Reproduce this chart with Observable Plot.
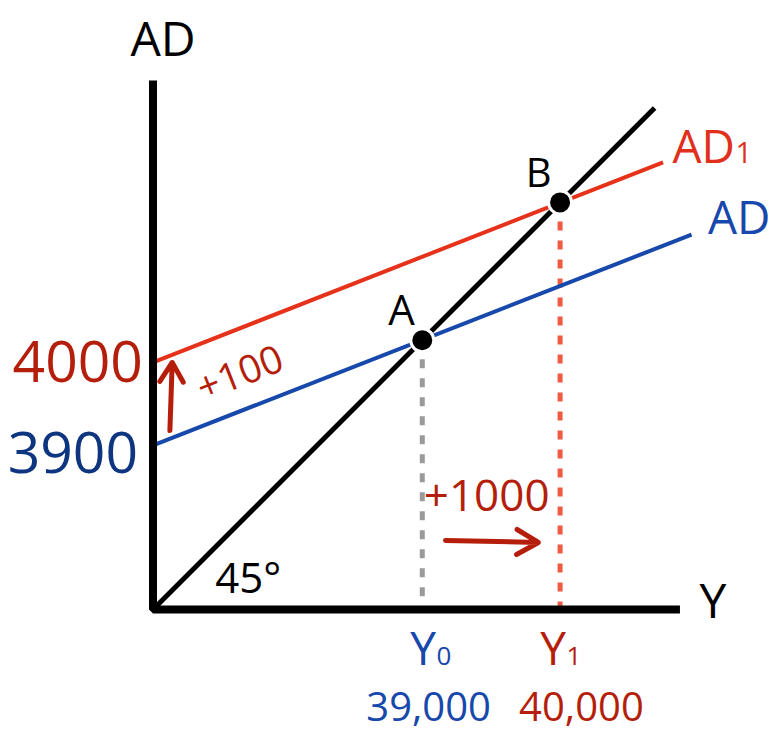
<!DOCTYPE html>
<html>
<head>
<meta charset="utf-8">
<script src="https://cdn.jsdelivr.net/npm/d3@7"></script>
<script src="https://cdn.jsdelivr.net/npm/@observablehq/plot@0.6"></script>
<style>
  html, body { margin: 0; padding: 0; background: #fff; }
  #chart svg { display: block; }
</style>
</head>
<body>
<div id="chart"></div>
<script>
// ---- data (abstract diagram units; 45° line means x = y) ----
const axisPath = [[0, 100.2], [0, 0], [99.8, 0]];
const line45 = [[0, 0], [95, 95]];
const adLine = [[0, 31.1], [102, 71.0]];      // AD (blue)
const ad1Line = [[0, 46.8], [96.6, 84.7]];    // AD1 (red)
const equilibria = [
  {name: "A", y: 51.0},
  {name: "B", y: 77.1}
];
const interceptLabels = ["4000", "3900"];
const interceptLabelPos = [[-1.9, 43.0], [-2.84, 25.8]];
const outputLabels = ["39,000", "40,000"];
const outputLabelPos = [[52.2, -21.21], [81.15, -21.21]];
const shiftUp = [[3.2, 33.9], [3.64, 46.8]];
const shiftRight = [[55.4, 13.07], [73.0, 12.7]];

// colours
const BLACK = "#000";
const DARKRED = "#b41e0a";
const RED = "#e6321a";
const REDLABEL = "#e0301c";
const REDDASH = "#ee5a42";
const BLUE = "#1748ab";
const NAVY = "#0d3580";
const GRAY = "#9a9a9a";

const pt = (a) => ({x: a[0], y: a[1]});
const txt = (x, y, t, o) => Plot.text([{x, y, t}], {x: "x", y: "y", text: "t", lineAnchor: "bottom", ...o});

const A = equilibria[0], B = equilibria[1];

const chart = Plot.plot({
  width: 777,
  height: 733,
  marginTop: 0, marginRight: 0, marginBottom: 0, marginLeft: 0,
  x: {domain: [0, 100], range: [152.5, 680.5], axis: null},
  y: {domain: [0, 100], range: [609, 81], axis: null},
  style: {fontFamily: "'Open Sans', sans-serif", background: "#fff", overflow: "visible"},
  marks: [
    // dashed drop lines
    Plot.line([pt([A.y, A.y]), pt([A.y, 0])], {x: "x", y: "y", stroke: GRAY, strokeWidth: 5, strokeDasharray: "9,10", strokeLinecap: "butt"}),
    Plot.line([pt([B.y, B.y]), pt([B.y, 0])], {x: "x", y: "y", stroke: REDDASH, strokeWidth: 5, strokeDasharray: "9,10", strokeLinecap: "butt"}),
    // AD curves
    Plot.line(adLine.map(pt), {x: "x", y: "y", stroke: BLUE, strokeWidth: 4, strokeLinecap: "butt"}),
    Plot.line(ad1Line.map(pt), {x: "x", y: "y", stroke: RED, strokeWidth: 4, strokeLinecap: "butt"}),
    // 45 degree line
    Plot.line(line45.map(pt), {x: "x", y: "y", stroke: BLACK, strokeWidth: 5, strokeLinecap: "butt"}),
    // axes
    Plot.line(axisPath.map(pt), {x: "x", y: "y", stroke: BLACK, strokeWidth: 8, strokeLinejoin: "miter", strokeLinecap: "butt"}),
    // equilibrium dots
    Plot.dot(equilibria, {x: "y", y: "y", r: 11.5, fill: BLACK, stroke: "#fff", strokeWidth: 3}),
    // arrows
    Plot.arrow([{x1: shiftUp[0][0], y1: shiftUp[0][1], x2: shiftUp[1][0], y2: shiftUp[1][1]}],
      {x1: "x1", y1: "y1", x2: "x2", y2: "y2", stroke: DARKRED, strokeWidth: 5, headLength: 7.5, headAngle: 62}),
    Plot.arrow([{x1: shiftRight[0][0], y1: shiftRight[0][1], x2: shiftRight[1][0], y2: shiftRight[1][1]}],
      {x1: "x1", y1: "y1", x2: "x2", y2: "y2", stroke: DARKRED, strokeWidth: 5, headLength: 7.5, headAngle: 60}),
    // axis titles
    txt(1.9, 104.9, "AD", {fontSize: 48, fill: BLACK, textAnchor: "middle"}),
    txt(106.06, -1.52, "Y", {fontSize: 48, fill: BLACK, textAnchor: "middle"}),
    // intercept labels
    txt(interceptLabelPos[0][0], interceptLabelPos[0][1], interceptLabels[0], {fontSize: 57, fill: DARKRED, textAnchor: "end"}),
    txt(interceptLabelPos[1][0], interceptLabelPos[1][1], interceptLabels[1], {fontSize: 57, fill: NAVY, textAnchor: "end"}),
    // curve labels
    txt(110.2, 84.5, "AD", {fontSize: 46, fill: REDLABEL, textAnchor: "end"}),
    txt(110.3, 84.5, "1", {fontSize: 29, fill: REDLABEL, textAnchor: "start"}),
    txt(105.1, 71.2, "AD", {fontSize: 46, fill: BLUE, textAnchor: "start"}),
    // point labels
    txt(47.06, 53.8, A.name, {fontSize: 42, fill: BLACK, textAnchor: "middle"}),
    txt(73.05, 80.0, B.name, {fontSize: 40, fill: BLACK, textAnchor: "middle"}),
    // shift labels
    Plot.text([{x: 16.5, y: 44.6, t: "+100"}], {x: "x", y: "y", text: "t", fontSize: 39, fill: DARKRED, rotate: -21.4, textAnchor: "middle", lineAnchor: "middle"}),
    txt(63.2, 18.75, "+1000", {fontSize: 44, fill: DARKRED, textAnchor: "middle"}),
    txt(11.8, 3.2, "45°", {fontSize: 42, fill: BLACK, textAnchor: "start"}),
    // Y0 / Y1
    txt(53.6, -10.51, "Y", {fontSize: 46, fill: BLUE, textAnchor: "end"}),
    txt(53.7, -10.51, "0", {fontSize: 26, fill: BLUE, textAnchor: "start"}),
    txt(78.2, -10.51, "Y", {fontSize: 46, fill: DARKRED, textAnchor: "end"}),
    txt(78.3, -10.51, "1", {fontSize: 26, fill: DARKRED, textAnchor: "start"}),
    // output values
    txt(outputLabelPos[0][0], outputLabelPos[0][1], outputLabels[0], {fontSize: 40, fill: BLUE, textAnchor: "middle"}),
    txt(outputLabelPos[1][0], outputLabelPos[1][1], outputLabels[1], {fontSize: 40, fill: DARKRED, textAnchor: "middle"})
  ]
});
document.getElementById("chart").appendChild(chart);
</script>
</body>
</html>
